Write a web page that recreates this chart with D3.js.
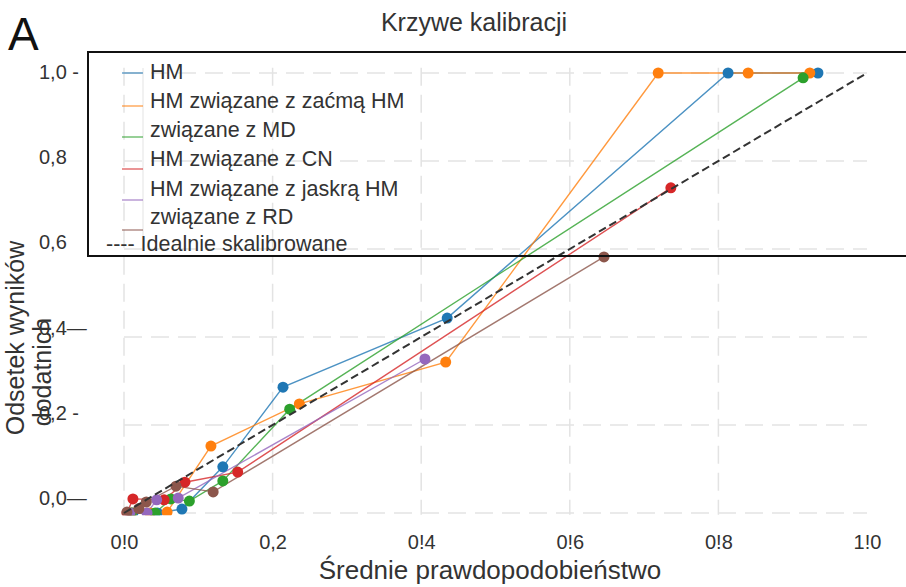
<!DOCTYPE html>
<html><head><meta charset="utf-8">
<script src="https://cdn.jsdelivr.net/npm/d3@7"></script>
<style>body{margin:0;background:#fff;} text{font-family:"Liberation Sans",Arial,sans-serif;}</style>
</head><body><svg id="c" width="906" height="587"></svg>
<script>
const seriesNames = ["HM","HM związane z zaćmą","HM związane z MD","HM związane z CN","HM związane z jaskrą","HM związane z RD"];
const seriesColors = ["#1f77b4","#ff7f0e","#2ca02c","#d62728","#9467bd","#8c564b"];
const hmX = [0.012,0.045,0.078,0.133,0.214,0.435,0.813,0.934];
const hmY = [0.0,0.0,0.009,0.105,0.286,0.443,1.0,1.0];
const catX = [0.01,0.035,0.058,0.117,0.236,0.433,0.719,0.840,0.923];
const catY = [0.0,0.0,0.002,0.152,0.248,0.343,1.0,1.0,1.0];
const mdX = [0.01,0.042,0.063,0.088,0.133,0.223,0.914];
const mdY = [0.0,0.0,0.032,0.027,0.073,0.236,0.989];
const cnX = [0.004,0.012,0.054,0.082,0.153,0.736];
const cnY = [0.0,0.032,0.03,0.07,0.093,0.739];
const glX = [0.008,0.031,0.044,0.073,0.405];
const glY = [0.0,0.0,0.03,0.034,0.35];
const rdX = [0.004,0.02,0.03,0.07,0.12,0.646];
const rdY = [0.002,0.01,0.025,0.061,0.048,0.582];
const idealX = [0,1];
const idealY = [0,1];
const xTicks = [0,0.2,0.4,0.6,0.8,1.0];
const xTickLabels = ["0!0","0,2","0!4","0!6","0!8","1!0"];
const yTicks = [0,0.2,0.4,0.6,0.8,1.0];
const yTickLabels = ["0,0—","0,2 -","0,4—","0,6","0,8","1,0 -"];
const legendLines = ["HM","HM związane z zaćmą HM","związane z MD","HM związane z CN","HM związane z jaskrą HM","związane z RD"];
const idealLabel = "---- Idealnie skalibrowane";

const svg = d3.select("#c");
const x = d3.scaleLinear().domain([0,1]).range([124,867]);
const y = d3.scaleLinear().domain([0,1]).range([513,73]);
const yLab = d3.scaleLinear().domain([0,1]).range([498,72]);

// grid
const grid = svg.append("g");
grid.selectAll("line.h").data(yTicks).join("line")
  .attr("x1",x(0)).attr("x2",x(1)).attr("y1",d=>y(d)).attr("y2",d=>y(d))
  .attr("stroke","#e3e3e3").attr("stroke-width",1.5).attr("stroke-dasharray","18,9");
grid.selectAll("line.v").data(xTicks.slice(0,5)).join("line")
  .attr("x1",d=>x(d)).attr("x2",d=>x(d)).attr("y1",y(1.012)).attr("y2",y(-0.004))
  .attr("stroke","#e3e3e3").attr("stroke-width",1.5).attr("stroke-dasharray","18,9");

svg.append("defs").append("clipPath").attr("id","clip").append("rect")
  .attr("x",0).attr("y",0).attr("width",906).attr("height",y(-0.005));

const plot = svg.append("g").attr("clip-path","url(#clip)");
const series = [[hmX,hmY],[catX,catY],[mdX,mdY],[cnX,cnY],[glX,glY],[rdX,rdY]];
const line = d3.line().x(d=>x(d[0])).y(d=>y(d[1]));
series.forEach((s,i)=>{
  const pts = s[0].map((v,j)=>[v,s[1][j]]);
  plot.append("path").datum(pts).attr("d",line).attr("fill","none")
    .attr("stroke",seriesColors[i]).attr("stroke-width",1.4).attr("stroke-opacity",0.8);
});
series.forEach((s,i)=>{
  const pts = s[0].map((v,j)=>[v,s[1][j]]);
  plot.selectAll(null).data(pts).join("circle")
    .attr("cx",d=>x(d[0])).attr("cy",d=>y(d[1])).attr("r",5.5).attr("fill",seriesColors[i]);
});
plot.append("path").datum(idealX.map((v,j)=>[v,idealY[j]])).attr("d",line)
  .attr("fill","none").attr("stroke","#333").attr("stroke-width",2).attr("stroke-dasharray","8,4");

// axes
const xAxis = d3.axisBottom(x).tickValues(xTicks).tickFormat((d,i)=>xTickLabels[i]).tickSize(0).tickPadding(3);
const gx = svg.append("g").attr("transform","translate(0,532)").call(xAxis);
gx.select(".domain").remove();
gx.selectAll("text").attr("font-size",20).attr("fill","#333").style("font-family","'Liberation Sans',Arial,sans-serif");

const yAxis = d3.axisLeft(yLab).tickValues(yTicks).tickFormat((d,i)=>yTickLabels[i]).tickSize(0).tickPadding(0);
const gy = svg.append("g").attr("transform","translate(39,0)").call(yAxis);
gy.select(".domain").remove();
gy.selectAll("text").attr("text-anchor","start").attr("x",0).attr("font-size",20).attr("fill","#333").style("font-family","'Liberation Sans',Arial,sans-serif");

// titles
svg.append("text").attr("x",474).attr("y",31).attr("text-anchor","middle").attr("font-size",25).attr("fill","#333").text("Krzywe kalibracji");
svg.append("text").attr("x",8).attr("y",50).attr("font-size",46).attr("fill","#111").text("A");
svg.append("text").attr("x",490).attr("y",579).attr("text-anchor","middle").attr("font-size",26).attr("fill","#333").text("Średnie prawdopodobieństwo");
svg.append("text").attr("transform","translate(24,338) rotate(-90)").attr("text-anchor","middle").attr("font-size",25).attr("fill","#333").text("Odsetek wyników");
svg.append("text").attr("transform","translate(51,372) rotate(-90)").attr("text-anchor","middle").attr("font-size",25).attr("fill","#333").text("dodatnich");

// legend
const lg = svg.append("g");
lg.append("rect").attr("x",88).attr("y",52).attr("width",830).attr("height",204)
  .attr("fill","none").attr("stroke","#111").attr("stroke-width",2);
const sampleY = [73,106,137,169,200,230];
lg.append("line").attr("x1",143).attr("x2",143).attr("y1",68).attr("y2",236).attr("stroke","#e3e3e3").attr("stroke-width",1);
lg.selectAll("line.s").data(seriesColors).join("line")
  .attr("x1",122).attr("x2",143).attr("y1",(d,i)=>sampleY[i]).attr("y2",(d,i)=>sampleY[i])
  .attr("stroke",d=>d).attr("stroke-width",1.4).attr("stroke-opacity",0.7);
const baseY = [79,108,137,166,196,224];
lg.selectAll("text.l").data(legendLines).join("text")
  .attr("x",150).attr("y",(d,i)=>baseY[i]).attr("font-size",21.5).attr("fill","#333").text(d=>d);
lg.append("text").attr("x",106).attr("y",251).attr("font-size",21.5).attr("fill","#333").text(idealLabel);
</script></body></html>
